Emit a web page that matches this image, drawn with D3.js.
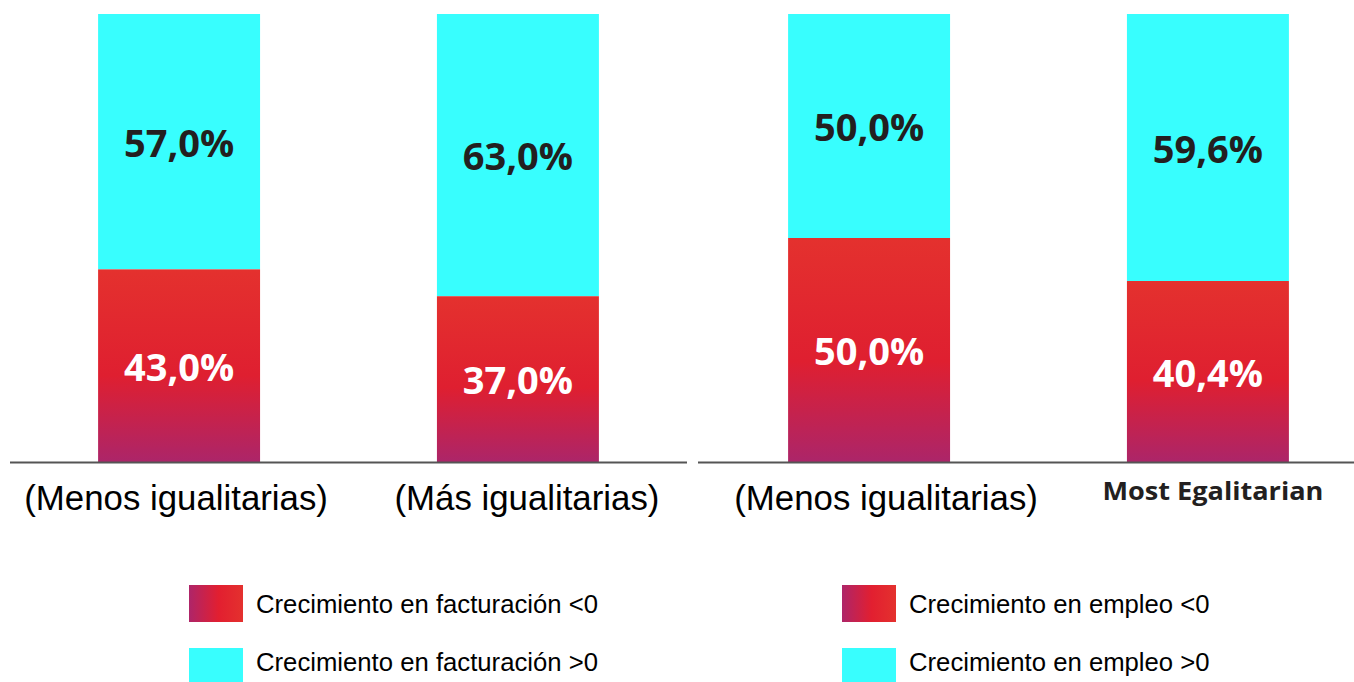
<!DOCTYPE html>
<html>
<head>
<meta charset="utf-8">
<script src="https://cdn.jsdelivr.net/npm/d3@7"></script>
<style>
  html, body { margin: 0; padding: 0; background: #ffffff; }
  svg { display: block; }
</style>
</head>
<body>
<svg id="chart" width="1354" height="682"></svg>
<script>
// ---- data ----
const panels = ["facturacion", "empleo"];
const categories = ["(Menos igualitarias)", "(Más igualitarias)", "(Menos igualitarias)", "Most Egalitarian"];
const categoryPanel = ["facturacion", "facturacion", "empleo", "empleo"];
const negativeGrowth = [43.0, 37.0, 50.0, 40.4];   // share with growth < 0
const positiveGrowth = [57.0, 63.0, 50.0, 59.6];   // share with growth > 0
const legendNegative = ["Crecimiento en facturación <0", "Crecimiento en empleo <0"];
const legendPositive = ["Crecimiento en facturación >0", "Crecimiento en empleo >0"];

// ---- layout ----
const W = 1354, H = 682;
const baseY = 462, topY = 14;
const panelRange = { facturacion: [10, 687], empleo: [700, 1377] };
const axisExtent = { facturacion: [10, 687], empleo: [698, 1354] };
const labelShift = [-3, 9, 17, 5];
const boldLabel = [false, false, false, true];
const legendX = { facturacion: 189, empleo: 842 };

const CYAN = "#38fefe";
const DARK = "#231f20";

const svg = d3.select("#chart");
const defs = svg.append("defs");

// vertical gradient for the negative-growth segment
const gv = defs.append("linearGradient").attr("id", "redV")
  .attr("x1", 0).attr("y1", 0).attr("x2", 0).attr("y2", 1);
gv.append("stop").attr("offset", "0%").attr("stop-color", "#e4312e");
gv.append("stop").attr("offset", "55%").attr("stop-color", "#df1f30");
gv.append("stop").attr("offset", "100%").attr("stop-color", "#ac2569");

// horizontal gradient for the legend swatch
const gh = defs.append("linearGradient").attr("id", "redH")
  .attr("x1", 0).attr("y1", 0).attr("x2", 1).attr("y2", 0);
gh.append("stop").attr("offset", "0%").attr("stop-color", "#ae2569");
gh.append("stop").attr("offset", "55%").attr("stop-color", "#e21f30");
gh.append("stop").attr("offset", "100%").attr("stop-color", "#e4312e");

const y = d3.scaleLinear().domain([0, 100]).range([baseY, topY]);

const esLocale = d3.formatLocale({ decimal: ",", thousands: ".", grouping: [3], currency: ["", " €"] });
const fmt = v => esLocale.format(".1f")(v) + "%";

const rows = categories.map((c, i) => ({
  i, name: c, panel: categoryPanel[i],
  neg: negativeGrowth[i], pos: positiveGrowth[i]
}));

panels.forEach(p => {
  const pr = rows.filter(r => r.panel === p);
  const x = d3.scaleBand().domain(pr.map(r => r.i)).range(panelRange[p])
    .paddingInner(0.522).paddingOuter(0.26);

  const g = svg.append("g");

  // positive segment (stacked on top)
  g.selectAll("rect.pos").data(pr).join("rect")
    .attr("x", r => x(r.i)).attr("width", x.bandwidth())
    .attr("y", r => y(r.neg + r.pos)).attr("height", r => y(r.neg) - y(r.neg + r.pos))
    .attr("fill", CYAN);

  // negative segment
  g.selectAll("rect.neg").data(pr).join("rect")
    .attr("x", r => x(r.i)).attr("width", x.bandwidth())
    .attr("y", r => y(r.neg)).attr("height", r => y(0) - y(r.neg))
    .attr("fill", "url(#redV)");

  // value labels
  g.selectAll("text.posv").data(pr).join("text")
    .attr("x", r => x(r.i) + x.bandwidth() / 2)
    .attr("y", r => (y(r.neg) + y(r.neg + r.pos)) / 2)
    .attr("text-anchor", "middle").attr("dominant-baseline", "central")
    .attr("font-family", "'Open Sans', sans-serif").attr("font-weight", 700)
    .attr("font-size", 38).attr("fill", DARK)
    .text(r => fmt(r.pos));

  g.selectAll("text.negv").data(pr).join("text")
    .attr("x", r => x(r.i) + x.bandwidth() / 2)
    .attr("y", r => (y(0) + y(r.neg)) / 2)
    .attr("text-anchor", "middle").attr("dominant-baseline", "central")
    .attr("font-family", "'Open Sans', sans-serif").attr("font-weight", 700)
    .attr("font-size", 38).attr("fill", "#ffffff")
    .text(r => fmt(r.neg));

  // baseline
  g.append("line")
    .attr("x1", axisExtent[p][0]).attr("x2", axisExtent[p][1])
    .attr("y1", baseY + 0.5).attr("y2", baseY + 0.5)
    .attr("stroke", "#555555").attr("stroke-width", 2);

  // category labels
  g.selectAll("text.cat").data(pr).join("text")
    .attr("x", r => x(r.i) + x.bandwidth() / 2 + labelShift[r.i])
    .attr("y", r => boldLabel[r.i] ? 500 : 510)
    .attr("text-anchor", "middle")
    .attr("font-family", r => boldLabel[r.i] ? "'Open Sans', sans-serif" : "'Liberation Sans', Arial, sans-serif")
    .attr("font-weight", r => boldLabel[r.i] ? 700 : 400)
    .attr("font-size", r => boldLabel[r.i] ? 25 : 34.8)
    .attr("fill", r => boldLabel[r.i] ? DARK : "#000000")
    .each(function (r) {
      if (boldLabel[r.i]) d3.select(this).attr("textLength", 221).attr("lengthAdjust", "spacingAndGlyphs");
    })
    .text(r => r.name);

  // legend
  const li = panels.indexOf(p);
  const lg = svg.append("g").attr("transform", `translate(${legendX[p]},0)`);
  lg.append("rect").attr("x", 0).attr("y", 585).attr("width", 54).attr("height", 37)
    .attr("fill", "url(#redH)");
  lg.append("rect").attr("x", 0).attr("y", 648).attr("width", 54).attr("height", 37)
    .attr("fill", CYAN);
  lg.append("text").attr("x", 67).attr("y", 613)
    .attr("font-family", "'Liberation Sans', Arial, sans-serif").attr("font-size", 25.7)
    .attr("fill", "#000").text(legendNegative[li]);
  lg.append("text").attr("x", 67).attr("y", 671)
    .attr("font-family", "'Liberation Sans', Arial, sans-serif").attr("font-size", 25.7)
    .attr("fill", "#000").text(legendPositive[li]);
});
</script>
</body>
</html>
